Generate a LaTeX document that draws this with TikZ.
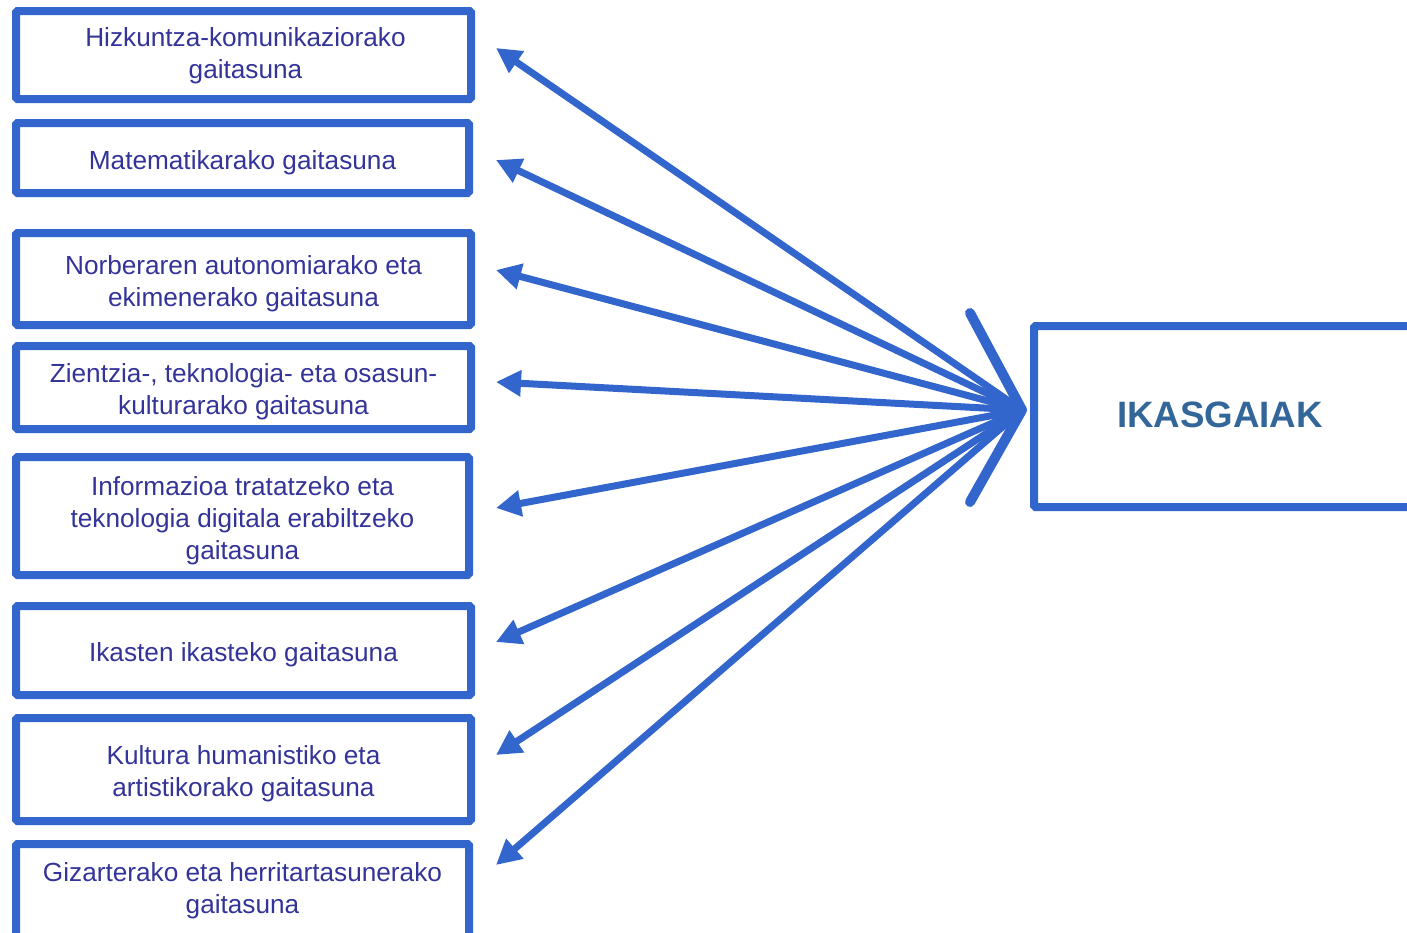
\documentclass[tikz,border=0pt]{standalone}
\usepackage{fontspec}
\setmainfont{Liberation Sans}
\usetikzlibrary{arrows.meta}
\definecolor{linecol}{HTML}{3366CC}
\definecolor{txtcol}{HTML}{333399}
\definecolor{ikcol}{HTML}{336699}
\tikzset{
  compbox/.style={draw=linecol, line width=8pt, rounded corners=1.5pt, rectangle,
    inner sep=0pt},
  boxtext/.style={inner sep=0pt, align=center, text=txtcol,
    font=\fontsize{26.2}{32}\selectfont},
  fanarrow/.style={draw=linecol, line width=7pt,
    -{Triangle[length=25pt,width=25pt]}},
}
\begin{document}
\begin{tikzpicture}[x=1pt,y=-1pt]
\useasboundingbox (0,0) rectangle (1407,932);
% left boxes
\node[compbox, minimum width=455pt, minimum height=88pt] (b1) at (243.5,55) {};
\node[compbox, minimum width=453pt, minimum height=70pt] (b2) at (242.5,158) {};
\node[compbox, minimum width=455pt, minimum height=92pt] (b3) at (243.5,279) {};
\node[compbox, minimum width=455pt, minimum height=83pt] (b4) at (243.5,387.5) {};
\node[compbox, minimum width=453pt, minimum height=118pt] (b5) at (242.5,516) {};
\node[compbox, minimum width=455pt, minimum height=89pt] (b6) at (243.5,650.5) {};
\node[compbox, minimum width=455pt, minimum height=103pt] (b7) at (243.5,769.5) {};
\node[compbox, minimum width=453pt, minimum height=94pt] (b8) at (242.5,891) {};
% texts
\node[boxtext] (l1) at ([yshift=-1pt,xshift=2pt]b1.center) {Hizkuntza-komunikaziorako\\gaitasuna};
\node[boxtext] (l2) at ([yshift=-4.5pt]b2.center) {Matematikarako gaitasuna};
\node[boxtext] (l3) at ([yshift=-4.5pt]b3.center) {Norberaren autonomiarako eta\\ekimenerako gaitasuna};
\node[boxtext] (l4) at ([yshift=-4.5pt]b4.center) {Zientzia-, teknologia- eta osasun-\\kulturarako gaitasuna};
\node[boxtext] (l5) at ([yshift=-4.5pt]b5.center) {Informazioa tratatzeko eta\\teknologia digitala erabiltzeko\\gaitasuna};
\node[boxtext] (l6) at ([yshift=-4.5pt]b6.center) {Ikasten ikasteko gaitasuna};
\node[boxtext] (l7) at ([yshift=-4.5pt]b7.center) {Kultura humanistiko eta\\artistikorako gaitasuna};
\node[boxtext] (l8) at ([yshift=0pt]b8.center) {Gizarterako eta herritartasunerako\\gaitasuna};
% right box
\node[compbox, minimum width=600pt, minimum height=181pt] (ikbox) at (1334,416.5) {};
\node[text=ikcol, inner sep=0pt, font=\fontsize{36.7}{40}\selectfont\bfseries]
  (iktext) at (1220,415) {IKASGAIAK};
% V shape
\coordinate (v1) at (970,313);
\coordinate (hub) at (1022,410);
\coordinate (v2) at (970,502);
\draw[linecol, line width=10pt, line cap=round, line join=round] (v1) -- (hub) -- (v2);
% arrow tips
\coordinate (t1) at (496,48);
\coordinate (t2) at (496,160);
\coordinate (t3) at (496,270);
\coordinate (t4) at (496,382);
\coordinate (t5) at (496,508);
\coordinate (t6) at (496,642);
\coordinate (t7) at (496,755);
\coordinate (t8) at (496,865);
\foreach \i in {1,...,8} {
  \draw[fanarrow] (hub) -- (t\i);
}
\end{tikzpicture}
\end{document}
